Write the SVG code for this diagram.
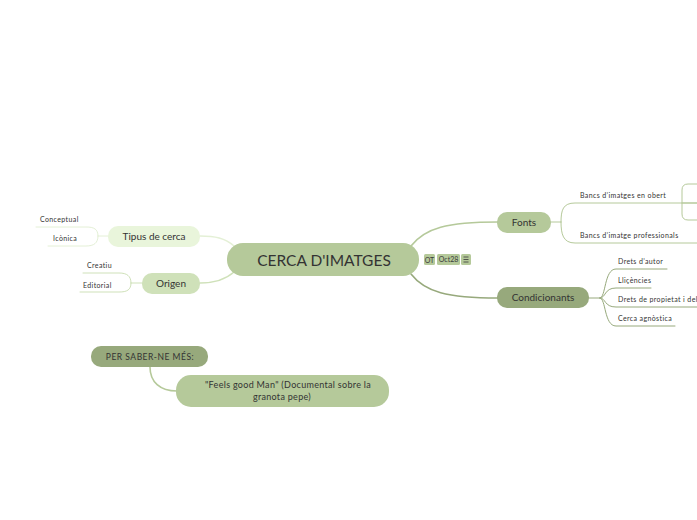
<svg xmlns="http://www.w3.org/2000/svg" width="697" height="520" viewBox="0 0 697 520">
<style>
text{font-family:"Lato","Open Sans",sans-serif;fill:#333333}
.main{font-size:15.5px;text-anchor:middle}
.mid{font-size:10px;text-anchor:middle}
.sm{font-size:7px;letter-spacing:0.38px}
.tag{font-size:7px;text-anchor:middle;fill:#3a3a3a}
.c{fill:none;stroke-linecap:round}
</style>
<rect width="697" height="520" fill="#ffffff"/>
<g id="connectors">
<path class="c" d="M411,246 C425,228 447,222 498,222" stroke="#b5c99a" stroke-width="1.6"/>
<path class="c" d="M411,274 C425,292 447,298 498,298" stroke="#97a97c" stroke-width="1.6"/>
<path class="c" d="M200,236 C215,236 225,238 234,246" stroke="#e4f0d6" stroke-width="1.6"/>
<path class="c" d="M200,283 C215,283 225,280 234,272" stroke="#cfe1b9" stroke-width="1.6"/>
<path class="c" d="M550,222 H561 M561,222 C561,210 563,203 575,203 H697 M561,222 C561,234 563,243 575,243 H697" stroke="#b5c99a" stroke-width="1"/>
<path class="c" d="M697,184 H688 Q682,184 682,190 V214 Q682,220 688,220 H697 M682,203 H697" stroke="#b5c99a" stroke-width="1"/>
<path class="c" d="M589,298 H600 M600,298 C606,298 604,269 616,269 H667 M600,298 C606,298 604,288 616,288 H651 M600,298 C606,298 604,307 616,307 H697 M600,298 C606,298 604,326 616,326 H675" stroke="#97a97c" stroke-width="1"/>
<path class="c" d="M108,236 H98 M98,236 C98,229 94,227 86,227 H36 M98,236 C98,243 94,246 86,246 H48" stroke="#e4f0d6" stroke-width="1"/>
<path class="c" d="M142,283 H131 M131,283 C131,276 127,273 119,273 H83 M131,283 C131,290 127,292 119,292 H80" stroke="#cfe1b9" stroke-width="1"/>
<path class="c" d="M150,367 C150,382 160,391 177,391" stroke="#b5c99a" stroke-width="1.6"/>
</g>
<g id="central">
<rect x="227" y="243" width="192" height="33" rx="16" fill="#b5c99a"/>
<text class="main" x="324" y="266">CERCA D'IMATGES</text>
</g>
<g id="tags">
<rect x="424" y="254" width="11" height="11" rx="1.5" fill="#b5c99a"/>
<text class="tag" x="429.5" y="262.5">OT</text>
<rect x="437" y="254" width="23" height="11" rx="1.5" fill="#b5c99a"/>
<text class="tag" x="448.5" y="262">Oct28</text>
<rect x="461" y="254" width="10" height="11" rx="1.5" fill="#b5c99a"/>
<path d="M463.5,257 H468.5 M463.5,259.5 H468.5 M463.5,262 H468.5" stroke="#3a3a3a" stroke-width="0.8"/>
</g>
<g id="fonts">
<rect x="497" y="212" width="54" height="21" rx="10" fill="#b5c99a"/>
<text class="mid" x="524" y="226">Fonts</text>
</g>
<g id="bancs-obert"><text class="sm" x="580" y="198">Bancs d’imatges en obert</text></g>
<g id="bancs-prof"><text class="sm" x="580" y="238">Bancs d’imatge professionals</text></g>
<g id="condicionants">
<rect x="497" y="287" width="92" height="21" rx="10" fill="#97a97c"/>
<text class="mid" x="543" y="301">Condicionants</text>
</g>
<g id="drets-autor"><text class="sm" x="618" y="264">Drets d’autor</text></g>
<g id="llicencies"><text class="sm" x="618" y="283">Lliçències</text></g>
<g id="drets-propietat"><text class="sm" x="618" y="302">Drets de propietat i del</text></g>
<g id="cerca-agnostica"><text class="sm" x="618" y="321">Cerca agnòstica</text></g>
<g id="tipus">
<rect x="108" y="226" width="92" height="21" rx="10" fill="#e9f5db"/>
<text class="mid" x="154" y="240">Tipus de cerca</text>
</g>
<g id="conceptual"><text class="sm" x="40" y="222">Conceptual</text></g>
<g id="iconica"><text class="sm" x="53" y="241">Icònica</text></g>
<g id="origen">
<rect x="142" y="273" width="58" height="21" rx="10" fill="#cfe1b9"/>
<text class="mid" x="171" y="287">Origen</text>
</g>
<g id="creatiu"><text class="sm" x="87" y="268">Creatiu</text></g>
<g id="editorial"><text class="sm" x="83" y="288">Editorial</text></g>
<g id="saber">
<rect x="91" y="346" width="117" height="21" rx="10" fill="#97a97c"/>
<text class="mid" x="150" y="360" style="font-size:8.5px;letter-spacing:0.5px">PER SABER-NE MÉS:</text>
</g>
<g id="feels">
<rect x="176" y="375" width="213" height="32" rx="15" fill="#b5c99a"/>
<text class="mid" x="288" y="388" style="font-size:9px;letter-spacing:0.3px">"Feels good Man" (Documental sobre la</text>
<text class="mid" x="282" y="400" style="font-size:9px;letter-spacing:0.3px">granota pepe)</text>
</g>
</svg>
